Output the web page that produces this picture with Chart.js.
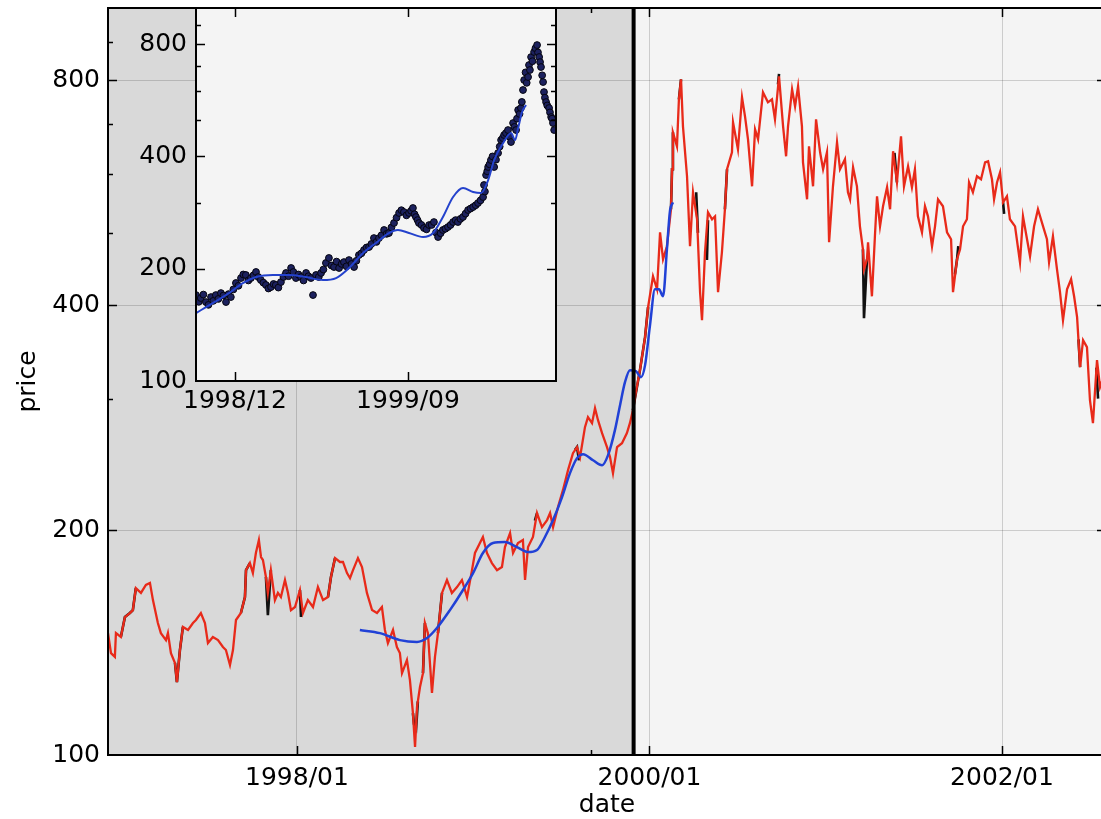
<!DOCTYPE html>
<html>
<head>
<meta charset="utf-8">
<script src="https://cdn.jsdelivr.net/npm/chart.js@4.4.1/dist/chart.umd.min.js"></script>
<style>
  html, body { margin: 0; padding: 0; background: #fff; overflow: hidden; }
  #wrap { position: relative; width: 1101px; height: 819px; overflow: hidden; }
  #main { position: absolute; left: 0; top: 0; }
  #inset { position: absolute; left: 140px; top: 0; }
</style>
</head>
<body>
<div id="wrap">
  <canvas id="main" width="1110" height="819"></canvas>
  <canvas id="inset" width="430" height="412"></canvas>
</div>
<script>
// dates are decimal years, prices in the chart's units

// main series (red)
const redDates = [
  1996.928,1996.945,1996.967,1996.973,1997.001,1997.024,1997.052,1997.069,1997.086,1997.115,
  1997.143,1997.166,1997.183,1997.211,1997.228,1997.257,1997.268,1997.285,1997.308,1997.319,
  1997.336,1997.353,1997.382,1997.410,1997.427,1997.455,1997.478,1997.495,1997.523,1997.552,
  1997.580,1997.597,1997.620,1997.637,1997.654,1997.682,1997.705,1997.711,1997.733,1997.750,
  1997.767,1997.784,1997.796,1997.807,1997.824,1997.835,1997.852,1997.875,1997.892,1997.909,
  1997.932,1997.949,1997.966,1997.989,1998.017,1998.034,1998.062,1998.091,1998.119,1998.148,
  1998.176,1998.193,1998.216,1998.244,1998.261,1998.284,1998.301,1998.318,1998.346,1998.369,
  1998.397,1998.426,1998.454,1998.482,1998.499,1998.516,1998.545,1998.567,1998.584,1998.596,
  1998.624,1998.641,1998.658,1998.670,1998.681,1998.698,1998.715,1998.726,1998.743,1998.766,
  1998.783,1998.800,1998.823,1998.851,1998.879,1998.908,1998.936,1998.965,1998.993,1999.010,
  1999.038,1999.055,1999.078,1999.106,1999.135,1999.163,1999.180,1999.209,1999.226,1999.254,
  1999.282,1999.294,1999.311,1999.339,1999.362,1999.390,1999.419,1999.436,1999.453,1999.481,
  1999.509,1999.538,1999.566,1999.589,1999.606,1999.634,1999.651,1999.674,1999.691,1999.708,
  1999.731,1999.759,1999.776,1999.793,1999.816,1999.844,1999.872,1999.889,1999.906,1999.923,
  1999.946,1999.975,1999.992,2000.020,2000.043,2000.060,2000.077,2000.099,2000.122,2000.128,
  2000.133,2000.156,2000.167,2000.179,2000.190,2000.213,2000.230,2000.247,2000.270,2000.287,
  2000.298,2000.315,2000.332,2000.355,2000.372,2000.389,2000.411,2000.428,2000.440,2000.468,
  2000.474,2000.502,2000.525,2000.542,2000.559,2000.582,2000.599,2000.616,2000.644,2000.672,
  2000.695,2000.712,2000.735,2000.758,2000.775,2000.786,2000.809,2000.826,2000.843,2000.865,
  2000.871,2000.894,2000.905,2000.928,2000.945,2000.968,2000.985,2001.007,2001.019,2001.041,
  2001.064,2001.081,2001.109,2001.126,2001.138,2001.155,2001.177,2001.194,2001.211,2001.217,
  2001.234,2001.240,2001.262,2001.279,2001.291,2001.308,2001.325,2001.348,2001.365,2001.382,
  2001.404,2001.427,2001.444,2001.467,2001.489,2001.506,2001.523,2001.546,2001.563,2001.580,
  2001.603,2001.620,2001.637,2001.665,2001.688,2001.711,2001.722,2001.745,2001.762,2001.779,
  2001.801,2001.813,2001.835,2001.858,2001.881,2001.904,2001.921,2001.943,2001.955,2001.972,
  2001.989,2002.006,2002.028,2002.045,2002.074,2002.102,2002.119,2002.142,2002.159,2002.182,
  2002.204,2002.233,2002.255,2002.267,2002.289,2002.312,2002.329,2002.346,2002.369,2002.392,
  2002.409,2002.426,2002.443,2002.460,2002.482,2002.499,2002.516,2002.539,2002.556,2002.579
];
const redPrices = [
  145.6,136.9,135.3,145.6,143.9,153.0,154.9,156.3,167.3,164.8,
  168.9,169.9,161.2,150.2,145.6,142.5,145.6,136.9,132.8,125.2,
  138.2,148.4,147.0,150.2,151.6,154.9,150.2,141.2,143.9,142.5,
  139.5,138.2,132.0,138.2,151.6,154.9,162.7,176.8,180.7,175.2,
  186.4,194.0,184.1,182.4,173.1,164.8,176.8,161.2,164.8,162.7,
  171.5,164.8,156.3,157.8,166.3,154.9,161.2,157.8,167.8,161.2,
  162.7,173.1,183.5,181.3,181.3,175.2,172.5,176.8,183.5,178.5,
  164.8,156.3,154.9,157.8,147.0,141.2,147.0,139.5,136.9,128.7,
  134.0,126.0,113.8,102.5,115.9,123.3,128.7,150.2,145.6,121.1,
  135.3,145.6,164.8,171.5,164.8,167.8,171.5,162.7,176.8,186.4,
  192.2,195.8,186.4,180.7,176.8,178.5,189.8,198.2,186.4,192.2,
  194.0,171.5,189.8,195.8,210.8,201.9,206.3,210.8,201.9,214.7,
  226.2,240.6,253.5,258.3,250.5,274.7,283.3,278.1,291.2,280.7,
  269.7,258.3,250.5,238.4,258.3,261.5,269.7,278.1,289.5,306.0,
  327.5,362.5,397.7,437.4,420.2,500.9,460.9,479.8,537.7,608.3,
  681.7,652.9,754.7,802.7,694.4,595.3,479.8,566.6,521.4,416.4,
  382.0,471.0,532.8,521.4,526.2,416.4,471.0,537.7,608.3,641.0,
  703.1,646.9,759.4,716.2,667.2,577.2,688.0,667.2,771.2,747.7,
  754.7,709.6,810.1,694.4,633.1,694.4,778.3,738.6,785.6,694.4,
  621.5,554.5,652.9,577.2,709.6,641.0,608.3,641.0,485.7,577.2,
  661.0,608.3,627.3,566.6,554.5,612.0,577.2,510.2,475.4,446.9,
  460.9,485.7,411.2,494.8,559.7,510.2,542.7,575.4,537.7,643.0,
  584.4,673.4,577.2,613.9,575.4,608.3,526.2,500.9,542.7,526.2,
  479.8,510.2,554.5,542.7,500.9,490.2,416.4,460.9,475.4,510.2,
  521.4,584.4,566.6,595.3,589.8,621.5,623.4,589.8,554.5,584.4,
  602.6,549.4,559.7,521.4,510.2,456.7,526.2,490.2,465.2,510.2,
  537.7,510.2,490.2,456.7,494.8,446.9,416.4,382.0,420.2,433.4,
  411.2,385.6,330.5,359.2,351.5,298.5,278.1,337.7,310.7,322.4
];

// black series: only the stretches where it shows past the red one (null = gap)
const blackDates = [
  1997.001,1997.024,1997.052,1997.069,1997.086,null,
  1997.308,1997.319,1997.336,1997.353,null,
  1997.682,1997.705,1997.711,1997.733,null,
  1997.824,1997.835,1997.852,null,
  1998.017,1998.023,null,
  1998.176,1998.193,1998.216,null,
  1998.658,1998.664,1998.676,1998.686,null,
  1998.715,1998.726,null,
  1998.800,1998.823,null,
  1999.350,1999.362,null,
  1999.577,1999.589,1999.600,null,
  1999.906,1999.946,1999.975,1999.992,null,
  2000.122,2000.128,2000.133,null,
  2000.167,2000.179,null,
  2000.265,2000.275,null,
  2000.326,2000.332,null,
  2000.428,2000.440,null,
  2000.729,2000.735,null,
  2001.211,2001.217,2001.234,null,
  2001.390,2001.404,null,
  2001.733,2001.745,2001.752,null,
  2002.006,2002.012,null,
  2002.434,2002.443,null,
  2002.535,2002.545
];
const blackPrices = [
  143.9,153.0,154.9,156.3,167.3,null,
  132.8,125.2,138.2,148.4,null,
  154.9,162.7,176.8,180.7,null,
  173.1,153.9,176.8,null,
  166.3,153.0,null,
  162.7,173.1,183.5,null,
  113.8,110.0,108.5,118.0,null,
  128.7,150.2,null,
  145.6,164.8,null,
  206.0,210.8,null,
  256.0,258.3,248.0,null,
  289.5,327.5,362.5,397.7,null,
  537.7,608.3,681.7,null,
  754.7,802.7,null,
  566.6,500.0,null,
  460.0,520.0,null,
  537.7,608.3,null,
  790.0,816.0,null,
  475.4,384.4,460.9,null,
  640.0,584.4,null,
  440.0,460.9,480.0,null,
  549.4,530.0,null,
  360.0,330.5,null,
  330.0,300.0
];

// smooth blue curve on the main chart
const blueDates = [
  1998.357,1998.471,1998.584,1998.681,1998.738,1998.794,1998.868,1998.942,1998.999,1999.055,
  1999.112,1999.180,1999.248,1999.311,1999.362,1999.407,1999.453,1999.504,1999.549,1999.589,
  1999.623,1999.680,1999.731,1999.765,1999.804,1999.833,1999.861,1999.889,1999.923,1999.952,
  1999.975,2000.003,2000.031,2000.054,2000.077,2000.099,2000.116,2000.133
];
const bluePrices = [
  147.0,145.6,142.5,141.7,143.4,147.9,156.3,166.3,175.2,186.4,
  192.2,192.8,189.8,186.9,188.1,195.8,206.3,221.4,238.4,249.7,
  252.8,248.1,244.3,252.0,272.2,294.0,315.6,327.5,326.5,320.5,
  332.6,376.2,420.2,420.2,411.2,475.4,534.4,549.4
];

// inset: dots and blue curve
const dotDates = [
  1998.748,1998.760,1998.769,1998.780,1998.791,1998.802,1998.813,1998.823,1998.834,1998.845,
  1998.856,1998.867,1998.878,1998.889,1998.899,1998.910,1998.921,1998.932,1998.943,1998.953,
  1998.964,1998.975,1998.986,1998.997,1999.008,1999.018,1999.029,1999.040,1999.051,1999.062,
  1999.073,1999.084,1999.094,1999.105,1999.116,1999.127,1999.138,1999.149,1999.160,1999.170,
  1999.181,1999.192,1999.203,1999.214,1999.225,1999.235,1999.246,1999.255,1999.268,1999.280,
  1999.290,1999.300,1999.311,1999.324,1999.335,1999.346,1999.357,1999.368,1999.379,1999.389,
  1999.400,1999.411,1999.422,1999.433,1999.443,1999.454,1999.465,1999.476,1999.487,1999.498,
  1999.508,1999.519,1999.530,1999.541,1999.552,1999.563,1999.574,1999.584,1999.595,1999.606,
  1999.617,1999.628,1999.638,1999.649,1999.660,1999.671,1999.680,1999.688,1999.695,1999.701,
  1999.708,1999.714,1999.725,1999.736,1999.747,1999.758,1999.769,1999.779,1999.788,1999.797,
  1999.808,1999.818,1999.829,1999.840,1999.851,1999.862,1999.873,1999.883,1999.894,1999.905,
  1999.916,1999.927,1999.938,1999.949,1999.960,1999.970,1999.981,1999.992,1999.996,2000.000,
  2000.005,2000.010,2000.014,2000.020,2000.026,2000.033,2000.040,2000.048,2000.057,2000.064,
  2000.070,2000.077,2000.083,2000.091,2000.100,2000.106,2000.113,2000.122,2000.128,2000.135,
  2000.139,2000.144,2000.150,2000.156,2000.160,2000.165,2000.170,2000.176,2000.181,2000.187,
  2000.191,2000.195,2000.200,2000.206,2000.213,2000.219,2000.226,2000.230,2000.235,2000.239,
  2000.243,2000.248,2000.252,2000.256,2000.260,2000.265,2000.270,2000.278,2000.282,2000.287,
  2000.291,2000.295,2000.300
];
const dotPrices = [
  170.0,163.0,166.9,170.5,162.8,160.0,167.9,164.0,170.0,166.0,
  172.1,169.5,162.8,171.0,167.9,176.0,183.1,180.0,188.8,193.0,
  192.4,186.0,188.8,192.0,196.0,190.0,186.5,183.5,180.9,177.0,
  178.6,182.0,180.9,178.0,184.2,190.0,194.8,191.0,200.9,196.0,
  188.8,193.0,190.0,186.0,194.8,191.0,188.8,170.0,192.4,190.0,
  194.8,199.0,207.2,213.7,204.0,202.1,209.0,200.9,206.0,208.4,
  203.0,211.0,206.0,202.1,210.0,217.6,220.0,224.5,228.0,228.7,
  233.0,241.7,236.0,241.7,246.0,254.0,248.0,249.3,258.0,265.2,
  274.0,282.1,287.0,283.8,278.0,282.1,286.0,290.9,280.0,275.2,
  270.0,265.2,262.0,257.1,255.0,261.9,262.0,266.8,250.0,243.2,
  249.0,254.0,256.0,258.7,262.0,266.8,270.0,266.8,272.0,275.2,
  281.0,287.3,290.0,292.7,296.0,300.0,305.0,311.3,335.3,322.0,
  356.6,365.0,374.7,381.0,391.2,400.0,374.7,392.0,408.5,425.0,
  442.6,448.0,456.5,462.0,470.8,452.0,437.2,491.6,480.0,470.8,
  505.0,532.7,520.0,539.3,560.0,602.7,641.0,672.0,630.0,653.0,
  703.2,682.0,738.8,720.0,762.0,780.0,795.6,760.0,738.8,716.0,
  694.6,660.0,633.2,595.2,575.0,559.6,548.0,539.3,525.0,510.1,
  505.0,491.6,470.8
];
const insetBlueDates = [
  1998.748,1998.821,1998.891,1998.951,1999.008,1999.081,1999.151,1999.224,1999.298,1999.355,
  1999.411,1999.472,1999.528,1999.584,1999.623,1999.671,1999.732,1999.775,1999.818,1999.862,
  1999.905,1999.949,1999.983,2000.014,2000.040,2000.079,2000.113,2000.131,2000.144,2000.161,
  2000.178
];
const insetBluePrices = [
  152.1,161.8,172.1,183.1,190.0,192.4,192.4,190.0,186.5,188.8,
  200.9,220.3,234.4,249.3,254.0,249.3,243.2,249.3,275.2,311.3,
  329.1,321.1,319.1,345.8,391.2,434.5,462.2,442.6,476.7,526.1,
  549.4
];

// axes
const mainXRange = [1996.928, 2002.59];
const mainXTicks = [1998, 2000, 2002];
const mainXMinor = [1999.6667];
const insetXRange = [1998.748, 2000.308];
const insetXTicks = [1998.9167, 1999.6667];
const yRange = [100, 1000];
const yTicks = [100, 200, 300, 400, 500, 600, 700, 800, 900];
const yLabelled = [100, 200, 400, 800];
const yGrid = [200, 400, 800];
const splitDate = 1999.91; // end of the grey band / thick marker

Chart.defaults.font.family = "'DejaVu Sans', sans-serif";
Chart.defaults.font.size = 25;
Chart.defaults.color = '#000';

const gridColor = 'rgba(0,0,0,0.16)';

function pts(dates, prices) {
  return dates.map((d, i) => ({ x: d === null ? dates[i - 1] : d, y: prices[i] }));
}

function monthLabel(v) {
  const yr = Math.floor(v + 1e-6);
  const m = Math.round((v - yr) * 12) + 1;
  return yr + '/' + String(m).padStart(2, '0');
}

// matplotlib style ticks pointing into the plot
function innerTicks(chart, xMajor, xMinor, yMajor, yMinor) {
  const ctx = chart.ctx, a = chart.chartArea;
  const xs = chart.scales.x, ys = chart.scales.y;
  ctx.save();
  ctx.strokeStyle = '#000';
  ctx.lineWidth = 1.5;
  ctx.beginPath();
  const xt = (v, len) => {
    const p = Math.round(xs.getPixelForValue(v)) + 0.5;
    ctx.moveTo(p, a.bottom); ctx.lineTo(p, a.bottom - len);
    ctx.moveTo(p, a.top); ctx.lineTo(p, a.top + len);
  };
  const yt = (v, len) => {
    const p = Math.round(ys.getPixelForValue(v)) + 0.5;
    ctx.moveTo(a.left, p); ctx.lineTo(a.left + len, p);
    ctx.moveTo(a.right, p); ctx.lineTo(a.right - len, p);
  };
  xMajor.forEach(v => xt(v, 9));
  xMinor.forEach(v => xt(v, 5));
  yMajor.forEach(v => yt(v, 9));
  yMinor.forEach(v => yt(v, 5));
  ctx.stroke();
  ctx.restore();
}

function frame(chart) {
  const ctx = chart.ctx, a = chart.chartArea;
  ctx.save();
  ctx.strokeStyle = '#000';
  ctx.lineWidth = 2;
  ctx.strokeRect(a.left, a.top, a.right - a.left, a.bottom - a.top);
  ctx.restore();
}

const yMinor = yTicks.filter(v => !yLabelled.includes(v));

const mainDecor = {
  id: 'mainDecor',
  beforeDraw(chart) {
    const ctx = chart.ctx, a = chart.chartArea;
    const sx = chart.scales.x.getPixelForValue(splitDate);
    ctx.save();
    ctx.fillStyle = '#f4f4f4';
    ctx.fillRect(a.left, a.top, a.right - a.left, a.bottom - a.top);
    ctx.fillStyle = '#d9d9d9';
    ctx.fillRect(a.left, a.top, sx - a.left, a.bottom - a.top);
    ctx.restore();
  },
  afterDatasetsDraw(chart) {
    const ctx = chart.ctx, a = chart.chartArea;
    const sx = chart.scales.x.getPixelForValue(splitDate);
    ctx.save();
    ctx.strokeStyle = '#000';
    ctx.lineWidth = 4;
    ctx.beginPath();
    ctx.moveTo(sx, a.top);
    ctx.lineTo(sx, a.bottom);
    ctx.stroke();
    ctx.restore();
  },
  afterDraw(chart) {
    frame(chart);
    innerTicks(chart, mainXTicks, mainXMinor, yLabelled.slice(1), yMinor);
  }
};

const insetDecor = {
  id: 'insetDecor',
  beforeDraw(chart) {
    const ctx = chart.ctx, a = chart.chartArea;
    ctx.save();
    ctx.fillStyle = '#f4f4f4';
    ctx.fillRect(a.left, a.top, a.right - a.left, a.bottom - a.top);
    ctx.restore();
  },
  afterDraw(chart) {
    frame(chart);
    innerTicks(chart, insetXTicks, [], yLabelled.slice(1), yMinor);
  }
};

function yAxis(width, pad, withGrid, title) {
  return {
    type: 'logarithmic',
    min: yRange[0],
    max: yRange[1],
    afterBuildTicks: s => { s.ticks = yTicks.map(v => ({ value: v })); },
    afterFit: s => { s.width = width; s.paddingTop = 0; s.paddingBottom = 0; },
    ticks: {
      padding: pad,
      autoSkip: false,
      callback: v => yLabelled.includes(v) ? String(v) : ''
    },
    grid: {
      display: withGrid,
      drawTicks: false,
      color: c => (c.tick && yGrid.includes(c.tick.value)) ? gridColor : 'rgba(0,0,0,0)'
    },
    border: { display: false },
    title: title
  };
}

function xAxis(range, ticks, height, pad, withGrid, title) {
  return {
    type: 'linear',
    min: range[0],
    max: range[1],
    afterBuildTicks: s => { s.ticks = ticks.map(v => ({ value: v })); },
    afterFit: s => { s.height = height; s.paddingLeft = 0; s.paddingRight = 0; },
    ticks: { callback: monthLabel, padding: pad, maxRotation: 0, autoSkip: false },
    grid: { display: withGrid, color: gridColor, drawTicks: false },
    border: { display: false },
    title: title
  };
}

// main chart
new Chart(document.getElementById('main'), {
  type: 'line',
  data: {
    datasets: [
      { data: pts(blueDates, bluePrices), borderColor: '#2141d6', borderWidth: 2.5,
        cubicInterpolationMode: 'monotone', order: 0 },
      { data: pts(redDates, redPrices), borderColor: '#e82a1a', borderWidth: 2.3, order: 1 },
      { data: pts(blackDates, blackPrices), borderColor: '#111111', borderWidth: 2.6, order: 2 }
    ]
  },
  options: {
    responsive: false,
    devicePixelRatio: 1,
    animation: false,
    events: [],
    layout: { padding: { top: 8, right: 4, left: 0, bottom: 0 } },
    elements: { point: { radius: 0 }, line: { tension: 0 } },
    plugins: { legend: { display: false }, tooltip: { enabled: false } },
    scales: {
      x: xAxis(mainXRange, mainXTicks, 64, 8, true, {
        display: true, text: 'date', font: { size: 25, lineHeight: 1 },
        padding: { top: 0, bottom: 1 }
      }),
      y: yAxis(108, 8, true, {
        display: true, text: 'price', font: { size: 25, lineHeight: 1 },
        padding: { top: 16, bottom: 0 }
      })
    }
  },
  plugins: [mainDecor]
});

// inset chart
new Chart(document.getElementById('inset'), {
  type: 'line',
  data: {
    datasets: [
      { data: pts(insetBlueDates, insetBluePrices), borderColor: '#2442cc', borderWidth: 2,
        cubicInterpolationMode: 'monotone', pointRadius: 0, order: 0 },
      { data: pts(dotDates, dotPrices), showLine: false, pointRadius: 3.4,
        pointBackgroundColor: '#1c215e', pointBorderColor: '#05050f', pointBorderWidth: 1, order: 1 }
    ]
  },
  options: {
    responsive: false,
    devicePixelRatio: 1,
    animation: false,
    events: [],
    layout: { padding: { top: 8, right: 14, left: 0, bottom: 0 } },
    plugins: { legend: { display: false }, tooltip: { enabled: false } },
    scales: {
      x: xAxis(insetXRange, insetXTicks, 31, 5, false, { display: false }),
      y: yAxis(56, 9, false, { display: false })
    }
  },
  plugins: [insetDecor]
});
</script>
</body>
</html>
